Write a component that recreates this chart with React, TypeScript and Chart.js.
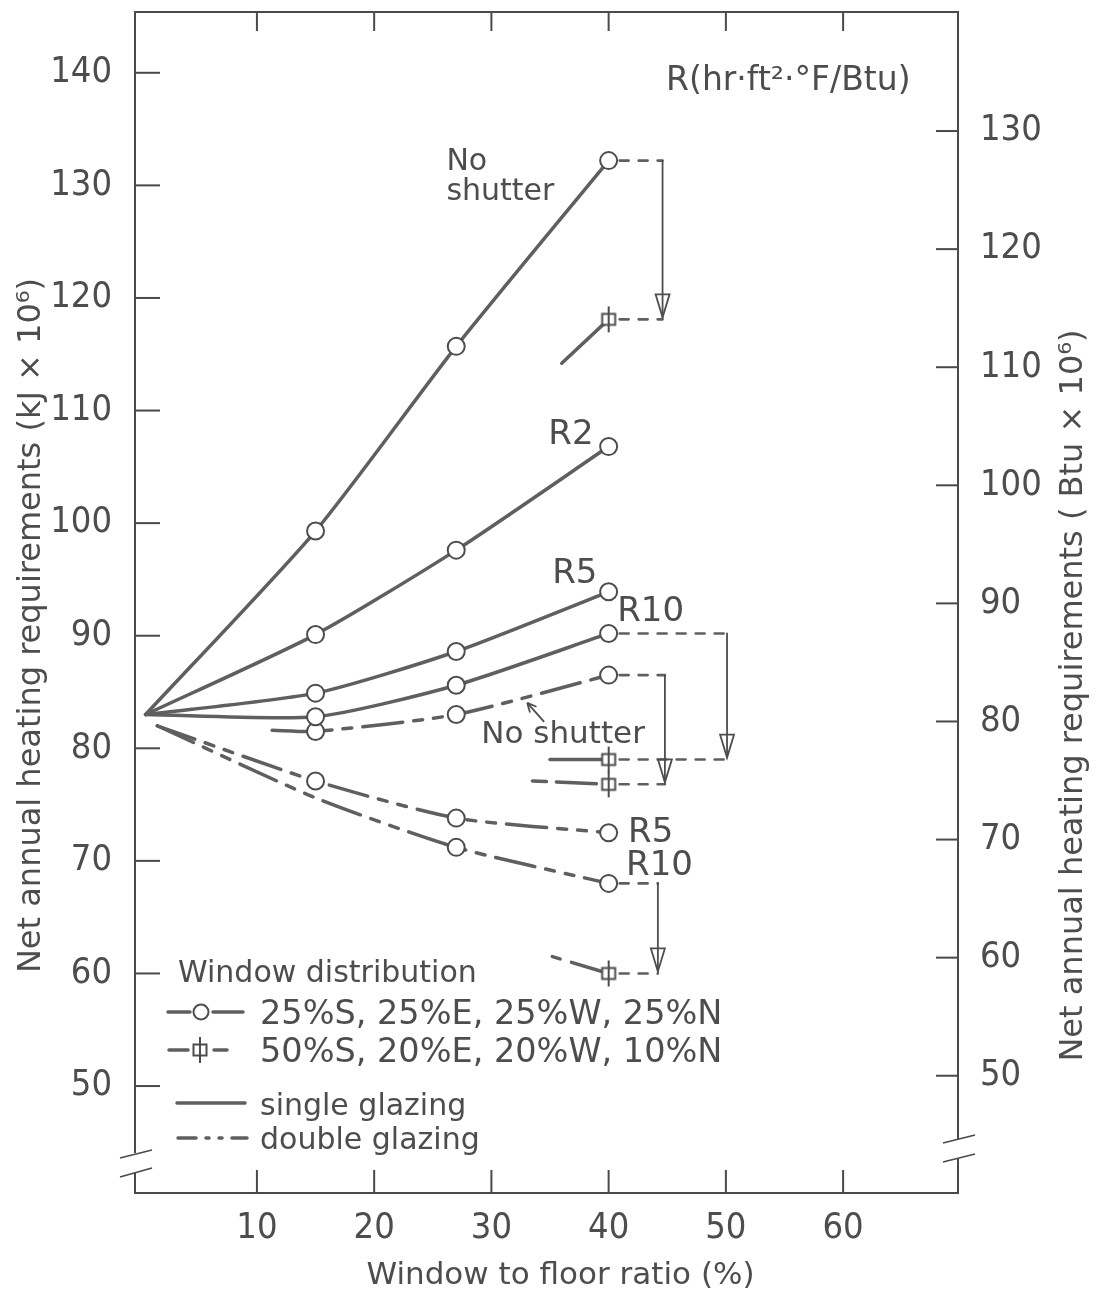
import React, { useEffect, useRef } from 'react';
import { Chart, registerables } from 'chart.js';

Chart.register(...registerables);

const W = 1096;
const H = 1289;

// ---------- axes ----------
const xTicks = [10, 20, 30, 40, 50, 60];
const kjTicks = [50, 60, 70, 80, 90, 100, 110, 120, 130, 140];
const btuTicks = [50, 60, 70, 80, 90, 100, 110, 120, 130];
const X_MIN = -0.4;
const X_MAX = 69.8;
const KJ_MIN = 40.5;
const KJ_MAX = 145.4;
const BTU_MIN = 40.07;
const BTU_MAX = 140.08;

// ---------- data (kJ x 10^6) : 25%S,25%E,25%W,25%N ----------
const xSingle = [0.5, 15, 27, 40];
const singleNoShutter = [83.0, 99.3, 115.7, 132.2];
const singleR2 = [83.0, 90.1, 97.6, 106.8];
const singleR5 = [83.0, 84.9, 88.6, 93.9];
const singleR10 = [83.0, 82.8, 85.6, 90.2];

const xDoubleNoShutter = [11.3, 15, 27, 40];
const doubleNoShutter = [81.6, 81.5, 83.0, 86.5];
const xDouble = [1.5, 15, 27, 40];
const doubleR5 = [82.0, 77.1, 73.8, 72.5];
const doubleR10 = [82.0, 75.6, 71.2, 68.0];

// ---------- data : 50%S,20%E,20%W,10%N ----------
const xSouthSingleNoShutter = [36.0, 40];
const southSingleNoShutter = [114.2, 118.1];
const xSouthSingleR10 = [35.0, 40];
const southSingleR10 = [79.0, 79.0];
const xSouthDoubleNoShutter = [33.5, 40];
const southDoubleNoShutter = [77.1, 76.8];
const xSouthDoubleR10 = [35.2, 40];
const southDoubleR10 = [61.5, 60.0];

// arrows from 25% distribution to 50%S distribution (x of vertical arrow)
const arrowX = [44.6, 50.1, 44.8, 44.2];

const INK = '#4d4d4d';
const LINE = '#5f5f5f';
const AXIS = '#4a4a4a';
const FONT = "'DejaVu Sans', sans-serif";
const TICK_FONT = "'DejaVu Sans Condensed', 'DejaVu Sans', sans-serif";

const DOUBLE_DASH = [40, 11, 9, 11, 9, 11];

function makeSquareMarker(): HTMLCanvasElement {
  const c = document.createElement('canvas');
  c.width = 20;
  c.height = 30;
  const g = c.getContext('2d')!;
  g.fillStyle = '#fff';
  g.fillRect(3, 9, 14, 12);
  g.strokeStyle = INK;
  g.lineWidth = 2;
  g.strokeRect(3.5, 9.5, 13, 11);
  g.beginPath();
  g.moveTo(10, 2);
  g.lineTo(10, 28);
  g.stroke();
  return c;
}

const toPts = (xs: number[], ys: number[]) => xs.map((x, i) => ({ x, y: ys[i] }));

const noPad = (s: any) => {
  s.paddingTop = 0;
  s.paddingBottom = 0;
  s.paddingLeft = 0;
  s.paddingRight = 0;
};

export default function App() {
  const ref = useRef<HTMLCanvasElement | null>(null);

  useEffect(() => {
    if (!ref.current) return;
    const marker = makeSquareMarker();

    const base = (label: string, xs: number[], ys: number[], extra: any) => ({
      label,
      data: toPts(xs, ys),
      xAxisID: 'x',
      yAxisID: 'y',
      borderColor: LINE,
      borderWidth: 3.5,
      borderCapStyle: 'round',
      backgroundColor: '#fff',
      pointBackgroundColor: '#fff',
      pointBorderColor: INK,
      pointBorderWidth: 2,
      pointStyle: 'circle',
      tension: 0.22,
      ...extra,
    });

    const circ = [0, 8.5, 8.5, 8.5];
    const sq = { pointRadius: [0, 8], pointStyle: [marker, marker], tension: 0 };

    const datasets: any[] = [
      base('No shutter (single)', xSingle, singleNoShutter, { pointRadius: circ }),
      base('R2 (single)', xSingle, singleR2, { pointRadius: circ }),
      base('R5 (single)', xSingle, singleR5, { pointRadius: circ }),
      base('R10 (single)', xSingle, singleR10, { pointRadius: circ }),
      base('No shutter (double)', xDoubleNoShutter, doubleNoShutter, { pointRadius: circ, borderDash: DOUBLE_DASH }),
      base('R5 (double)', xDouble, doubleR5, { pointRadius: circ, borderDash: DOUBLE_DASH }),
      base('R10 (double)', xDouble, doubleR10, { pointRadius: [0, 0, 8.5, 8.5], borderDash: DOUBLE_DASH }),
      base('No shutter (single, 50%S)', xSouthSingleNoShutter, southSingleNoShutter, sq),
      base('R10 (single, 50%S)', xSouthSingleR10, southSingleR10, sq),
      base('No shutter (double, 50%S)', xSouthDoubleNoShutter, southDoubleNoShutter, { ...sq, borderDash: [14, 10, 40, 10] }),
      base('R10 (double, 50%S)', xSouthDoubleR10, southDoubleR10, { ...sq, borderDash: [8, 12, 40, 10] }),
    ];

    const connectors = [
      { ax: arrowX[0], from: singleNoShutter[3], to: southSingleNoShutter[1], fx: xSingle[3], tx: xSouthSingleNoShutter[1] },
      { ax: arrowX[1], from: singleR10[3], to: southSingleR10[1], fx: xSingle[3], tx: xSouthSingleR10[1] },
      { ax: arrowX[2], from: doubleNoShutter[3], to: southDoubleNoShutter[1], fx: xDoubleNoShutter[3], tx: xSouthDoubleNoShutter[1] },
      { ax: arrowX[3], from: doubleR10[3], to: southDoubleR10[1], fx: xDouble[3], tx: xSouthDoubleR10[1] },
    ];

    const labels = [
      { t: 'No', x: 26.16, y: 132.1, align: 'left', size: 30 },
      { t: 'shutter', x: 26.16, y: 129.43, align: 'left', size: 30 },
      { t: 'R(hr·ft²·°F/Btu)', x: 65.75, y: 139.2, align: 'right', size: 33 },
      { t: 'R2', x: 34.85, y: 107.84, align: 'left', size: 34 },
      { t: 'R5', x: 35.19, y: 95.49, align: 'left', size: 34 },
      { t: 'R10', x: 40.73, y: 92.11, align: 'left', size: 34 },
      { t: 'No shutter', x: 29.14, y: 81.19, align: 'left', size: 31 },
      { t: 'R5', x: 41.66, y: 72.48, align: 'left', size: 34 },
      { t: 'R10', x: 41.49, y: 69.55, align: 'left', size: 34 },
    ];

    const decor = {
      id: 'decor',
      afterDatasetsDraw(chart: any) {
        const { ctx, scales } = chart;
        const sx = scales.x;
        const sy = scales.y;
        ctx.save();
        // connectors: dashed horizontals + vertical arrows
        connectors.forEach((c) => {
          const ax = sx.getPixelForValue(c.ax);
          const y1 = sy.getPixelForValue(c.from);
          const y2 = sy.getPixelForValue(c.to);
          const x1 = sx.getPixelForValue(c.fx) + 11;
          const x2 = sx.getPixelForValue(c.tx) + 11;
          ctx.strokeStyle = LINE;
          ctx.lineWidth = 2.6;
          ctx.lineCap = 'round';
          ctx.setLineDash([9, 10]);
          ctx.beginPath();
          ctx.moveTo(x1, y1);
          ctx.lineTo(ax, y1);
          ctx.moveTo(x2, y2);
          ctx.lineTo(ax, y2);
          ctx.stroke();
          ctx.setLineDash([]);
          ctx.lineWidth = 1.8;
          ctx.strokeStyle = INK;
          ctx.beginPath();
          ctx.moveTo(ax, y1);
          ctx.lineTo(ax, y2 - 2);
          ctx.stroke();
          // arrow head (open narrow triangle)
          ctx.beginPath();
          ctx.moveTo(ax - 7, y2 - 25);
          ctx.lineTo(ax, y2 - 2);
          ctx.lineTo(ax + 7, y2 - 25);
          ctx.closePath();
          ctx.stroke();
        });
        ctx.restore();
      },
      afterDraw(chart: any) {
        const { ctx, chartArea: a, scales } = chart;
        const sx = scales.x;
        const sy = scales.y;
        const sy2 = scales.y2;
        const line = (x1: number, y1: number, x2: number, y2: number) => {
          ctx.beginPath();
          ctx.moveTo(x1, y1);
          ctx.lineTo(x2, y2);
          ctx.stroke();
        };
        ctx.save();
        ctx.strokeStyle = AXIS;
        ctx.lineWidth = 2;
        ctx.lineCap = 'butt';
        // inward tick marks
        xTicks.forEach((v) => {
          const px = sx.getPixelForValue(v);
          line(px, a.bottom, px, a.bottom - 23);
          line(px, a.top, px, a.top + 19);
        });
        kjTicks.forEach((v) => {
          const py = sy.getPixelForValue(v);
          line(a.left, py, a.left + 25, py);
        });
        btuTicks.forEach((v) => {
          const py = sy2.getPixelForValue(v);
          line(a.right, py, a.right - 22, py);
        });
        // axis breaks
        ctx.fillStyle = '#fff';
        ctx.fillRect(a.left - 3, a.bottom - 40, 6, 20);
        ctx.fillRect(a.right - 3, a.bottom - 54, 6, 20);
        ctx.lineWidth = 1.8;
        line(a.left - 15, a.bottom - 35, a.left + 17, a.bottom - 43);
        line(a.left - 15, a.bottom - 16, a.left + 17, a.bottom - 25);
        line(a.right - 15, a.bottom - 50, a.right + 17, a.bottom - 58);
        line(a.right - 15, a.bottom - 31, a.right + 17, a.bottom - 39);

        // axis titles
        ctx.fillStyle = INK;
        ctx.textAlign = 'center';
        ctx.textBaseline = 'middle';
        ctx.font = `32px ${FONT}`;
        ctx.save();
        ctx.translate(32, (a.top + a.bottom) / 2 + 23);
        ctx.rotate(-Math.PI / 2);
        ctx.fillText('Net annual heating requirements (kJ × 10⁶)', 0, 0);
        ctx.restore();
        ctx.save();
        ctx.translate(1074, (a.top + a.bottom) / 2 + 93);
        ctx.rotate(-Math.PI / 2);
        ctx.fillText('Net annual heating requirements ( Btu × 10⁶)', 0, 0);
        ctx.restore();
        ctx.font = `31px ${FONT}`;
        ctx.fillText('Window to floor ratio (%)', (a.left + a.right) / 2 + 14, 1276);

        // annotations
        labels.forEach((l) => {
          ctx.font = `${l.size}px ${FONT}`;
          ctx.textAlign = l.align;
          ctx.textBaseline = 'middle';
          ctx.fillText(l.t, sx.getPixelForValue(l.x), sy.getPixelForValue(l.y));
        });
        // small pointer arrow for "No shutter"
        {
          const x1 = sx.getPixelForValue(34.5);
          const y1 = sy.getPixelForValue(82.34);
          const x2 = sx.getPixelForValue(33.06);
          const y2 = sy.getPixelForValue(84.03);
          ctx.strokeStyle = INK;
          ctx.lineWidth = 1.8;
          line(x1, y1, x2, y2);
          const ang = Math.atan2(y2 - y1, x2 - x1);
          line(x2, y2, x2 - 10 * Math.cos(ang - 0.45), y2 - 10 * Math.sin(ang - 0.45));
          line(x2, y2, x2 - 10 * Math.cos(ang + 0.45), y2 - 10 * Math.sin(ang + 0.45));
        }

        // legend
        ctx.textAlign = 'left';
        ctx.textBaseline = 'alphabetic';
        ctx.fillStyle = INK;
        ctx.font = `30px ${FONT}`;
        ctx.fillText('Window distribution', 178, 982);
        ctx.font = `33.5px ${FONT}`;
        ctx.fillText('25%S, 25%E, 25%W, 25%N', 260, 1024);
        ctx.fillText('50%S, 20%E, 20%W, 10%N', 260, 1062);
        ctx.font = `30px ${FONT}`;
        ctx.fillText('single glazing', 260, 1115);
        ctx.fillText('double glazing', 260, 1149);
        ctx.strokeStyle = LINE;
        ctx.lineWidth = 3.5;
        ctx.lineCap = 'round';
        line(168, 1012, 190, 1012);
        line(213, 1012, 243, 1012);
        ctx.strokeStyle = INK;
        ctx.lineWidth = 2;
        ctx.fillStyle = '#fff';
        ctx.beginPath();
        ctx.arc(201, 1012, 7.5, 0, Math.PI * 2);
        ctx.fill();
        ctx.stroke();
        ctx.strokeStyle = LINE;
        ctx.lineWidth = 3.5;
        line(169, 1050, 188, 1050);
        line(214, 1050, 227, 1050);
        ctx.drawImage(marker, 200 - 10, 1050 - 15);
        line(177, 1103, 245, 1103);
        ctx.setLineDash([18, 10, 3, 10, 3, 10]);
        line(178, 1138, 247, 1138);
        ctx.setLineDash([]);
        ctx.restore();
      },
    };

    const tickFont = { family: TICK_FONT, size: 36 };

    const chart = new Chart(ref.current, {
      type: 'line',
      data: { datasets },
      options: {
        animation: false,
        responsive: false,
        devicePixelRatio: 1,
        layout: { padding: 0 },
        plugins: { legend: { display: false }, tooltip: { enabled: false } },
        scales: {
          x: {
            type: 'linear',
            position: 'bottom',
            min: X_MIN,
            max: X_MAX,
            afterBuildTicks: (s: any) => {
              s.ticks = xTicks.map((v) => ({ value: v }));
            },
            afterFit: (s: any) => {
              s.height = H - 1193;
              noPad(s);
            },
            grid: { display: false },
            border: { display: true, color: AXIS, width: 2 },
            ticks: { font: tickFont, color: INK, padding: 6, maxRotation: 0, autoSkip: false },
          },
          x2: {
            type: 'linear',
            position: 'top',
            min: X_MIN,
            max: X_MAX,
            afterFit: (s: any) => {
              s.height = 12;
              noPad(s);
            },
            grid: { display: false },
            border: { display: true, color: AXIS, width: 2 },
            ticks: { display: false },
          },
          y: {
            type: 'linear',
            position: 'left',
            min: KJ_MIN,
            max: KJ_MAX,
            afterBuildTicks: (s: any) => {
              s.ticks = kjTicks.map((v) => ({ value: v }));
            },
            afterFit: (s: any) => {
              s.width = 135;
              noPad(s);
            },
            grid: { display: false },
            border: { display: true, color: AXIS, width: 2 },
            ticks: { font: tickFont, color: INK, padding: 15, autoSkip: false },
          },
          y2: {
            type: 'linear',
            position: 'right',
            min: BTU_MIN,
            max: BTU_MAX,
            afterBuildTicks: (s: any) => {
              s.ticks = btuTicks.map((v) => ({ value: v }));
            },
            afterFit: (s: any) => {
              s.width = W - 958;
              noPad(s);
            },
            grid: { display: false },
            border: { display: true, color: AXIS, width: 2 },
            ticks: { font: tickFont, color: INK, padding: 14, autoSkip: false },
          },
        },
      } as any,
      plugins: [decor],
    });
    return () => chart.destroy();
  }, []);

  return (
    <div style={{ position: 'absolute', left: 0, top: 0, width: W, height: H, background: '#fff' }}>
      <canvas ref={ref} width={W} height={H} style={{ display: 'block' }} />
    </div>
  );
}
